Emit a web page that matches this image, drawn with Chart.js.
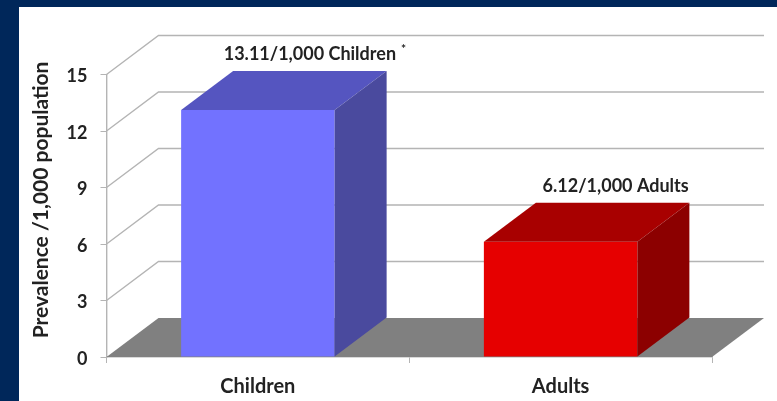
<!DOCTYPE html>
<html>
<head>
<meta charset="utf-8">
<script src="https://cdn.jsdelivr.net/npm/chart.js@4"></script>
<style>
  html, body { margin: 0; padding: 0; width: 777px; height: 401px; overflow: hidden; background: #00275a; }
  #panel { position: absolute; left: 19px; top: 7px; width: 758px; height: 394px; background: #fff; }
  #chartCanvas { position: absolute; left: 0; top: 0; filter: blur(0.4px); }
</style>
</head>
<body>
<div id="panel"></div>
<canvas id="chartCanvas" width="777" height="401"></canvas>
<script>
const categories = ['Children', 'Adults'];
const prevalence = [13.11, 6.12];
const barLabels = ['13.11/1,000 Children', '6.12/1,000 Adults'];
const barNotes = ['*', ''];
const yTicks = [0, 3, 6, 9, 12, 15];
const yTitle = 'Prevalence /1,000 population';

const frontColors = ['#7272ff', '#e60000'];
const topColors = ['#5555c0', '#a80000'];
const sideColors = ['#4a4a9e', '#8c0000'];

const depthX = 52;
const depthY = 39;
const lineColor = '#b4b4b4';
const textColor = '#222222';
const fontFamily = 'Lato, "Open Sans", sans-serif';

function fillPoly(ctx, pts, color) {
    ctx.fillStyle = color;
    ctx.beginPath();
    ctx.moveTo(pts[0][0], pts[0][1]);
    for (let i = 1; i < pts.length; i++) ctx.lineTo(pts[i][0], pts[i][1]);
    ctx.closePath();
    ctx.fill();
}

// the fake 3d part: floor and back wall lines behind the bars, side and top faces on them
const depthPlugin = {
    id: 'depth',
    beforeDatasetsDraw(chart) {
        const ctx = chart.ctx;
        const y = chart.scales.y;
        const left = chart.chartArea.left;
        const right = chart.chartArea.right;
        const floor = y.getPixelForValue(0);
        ctx.save();
        fillPoly(ctx, [[left, floor], [left + depthX, floor - depthY], [right + depthX, floor - depthY], [right, floor]], '#808080');
        ctx.strokeStyle = lineColor;
        ctx.lineWidth = 1.4;
        yTicks.forEach(function (t) {
            if (t == 0) return;
            const py = y.getPixelForValue(t);
            ctx.beginPath();
            ctx.moveTo(left, py);
            ctx.lineTo(left + depthX, py - depthY);
            ctx.lineTo(right + depthX, py - depthY);
            ctx.stroke();
        });
        ctx.restore();
    },
    afterDatasetsDraw(chart) {
        const ctx = chart.ctx;
        const bars = chart.getDatasetMeta(0).data;
        ctx.save();
        bars.forEach(function (bar, i) {
            const x0 = bar.x - bar.width / 2;
            const x1 = bar.x + bar.width / 2;
            fillPoly(ctx, [[x0, bar.y], [x0 + depthX, bar.y - depthY], [x1 + depthX, bar.y - depthY], [x1, bar.y]], topColors[i]);
            fillPoly(ctx, [[x1, bar.y], [x1 + depthX, bar.y - depthY], [x1 + depthX, bar.base - depthY], [x1, bar.base]], sideColors[i]);

            ctx.fillStyle = textColor;
            ctx.font = 'bold 18px ' + fontFamily;
            ctx.textAlign = 'center';
            ctx.textBaseline = 'middle';
            const lx = bar.x + depthX + (i == 1 ? 3 : 0);
            const ly = bar.y - depthY - 17;
            ctx.fillText(barLabels[i], lx, ly);
            if (barNotes[i]) {
                const w = ctx.measureText(barLabels[i]).width;
                ctx.font = 'bold 12px ' + fontFamily;
                ctx.textAlign = 'left';
                ctx.fillText(barNotes[i], lx + w / 2 + 5, ly - 5);
            }
        });
        ctx.restore();
    },
    afterDraw(chart) {
        // axis title sits higher than the middle of the axis in the original
        const ctx = chart.ctx;
        ctx.save();
        ctx.translate(41, 200);
        ctx.rotate(-Math.PI / 2);
        ctx.fillStyle = textColor;
        ctx.font = 'bold 21px ' + fontFamily;
        ctx.textAlign = 'center';
        ctx.textBaseline = 'middle';
        ctx.fillText(yTitle, 0, 0);
        ctx.restore();
    }
};

new Chart('chartCanvas', {
    type: 'bar',
    data: {
        labels: categories,
        datasets: [{
            data: prevalence,
            backgroundColor: frontColors,
            borderWidth: 0,
            categoryPercentage: 1,
            barPercentage: 0.507
        }]
    },
    options: {
        responsive: false,
        animation: false,
        devicePixelRatio: 1,
        layout: { padding: { top: 74.5, right: 65, left: 0, bottom: 0 } },
        plugins: {
            legend: { display: false },
            tooltip: { enabled: false }
        },
        scales: {
            x: {
                afterFit(scale) { scale.height = 44; },
                grid: { drawOnChartArea: false, color: lineColor, tickLength: 6 },
                border: { color: lineColor, width: 1.4 },
                ticks: { color: textColor, padding: 12, font: { family: fontFamily, size: 20, weight: 'bold' } }
            },
            y: {
                min: 0,
                max: 15,
                afterFit(scale) { scale.width = 106.5; },
                afterBuildTicks(scale) { scale.ticks = yTicks.map(function (v) { return { value: v }; }); },
                grid: { drawOnChartArea: false, color: lineColor, tickLength: 6 },
                border: { color: lineColor, width: 1.4 },
                ticks: { color: textColor, padding: 13, labelOffset: 2, font: { family: fontFamily, size: 18, weight: 'bold' } }
            }
        }
    },
    plugins: [depthPlugin]
});
</script>
</body>
</html>
